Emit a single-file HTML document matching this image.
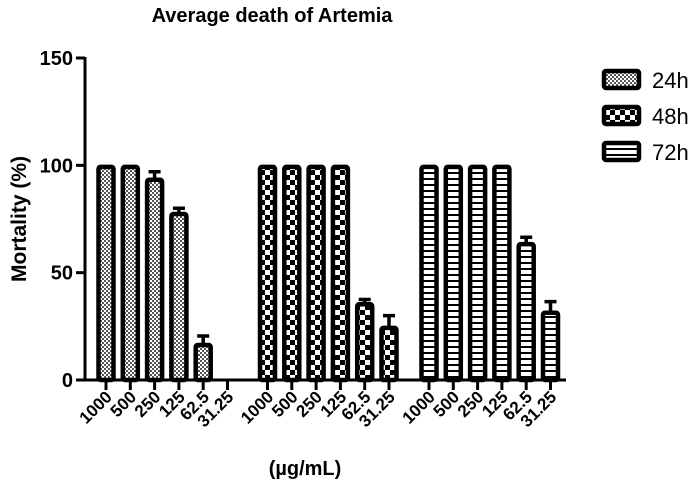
<!DOCTYPE html>
<html><head><meta charset="utf-8"><style>
body{margin:0;background:#fff;}
svg text{font-family:"Liberation Sans",Arial,sans-serif;font-weight:bold;fill:#000;}
</style></head><body>
<svg id="chart" width="700" height="484" viewBox="0 0 700 484">
<defs>
<pattern id="p24" width="4" height="4" patternUnits="userSpaceOnUse"><rect width="4" height="4" fill="#fff"/><rect width="2" height="2" fill="#555"/><rect x="2" y="2" width="2" height="2" fill="#555"/></pattern>
<pattern id="p48" width="10" height="10" patternUnits="userSpaceOnUse"><rect width="10" height="10" fill="#fff"/><rect width="5" height="5" fill="#000"/><rect x="5" y="5" width="5" height="5" fill="#000"/></pattern>
<pattern id="p72" width="6" height="6" patternUnits="userSpaceOnUse"><rect width="6" height="6" fill="#fff"/><rect y="4" width="6" height="2" fill="#000"/></pattern>
</defs>
<text x="272" y="22" font-size="20" text-anchor="middle">Average death of Artemia</text>
<text transform="translate(26,219) rotate(-90)" font-size="21" text-anchor="middle">Mortality (%)</text>
<text x="305" y="475" font-size="20" text-anchor="middle">(µg/mL)</text>
<g id="axes"></g>
<g id="bars"></g>
<g id="legend"></g>
</svg>
<script>
const concentrations=["1000","500","250","125","62.5","31.25"];
const seriesNames=["24h","48h","72h"];
const values24=[100,100,94,78,17,0];
const values48=[100,100,100,100,36,25];
const values72=[100,100,100,100,64,32];
const errors24=[0,0,3,2,3.5,0];
const errors48=[0,0,0,0,1.5,5];
const errors72=[0,0,0,0,2.5,4.5];
const yTicks=[0,50,100,150];
const NS="http://www.w3.org/2000/svg";
const y0=380,yTop=58,yMax=150;
function yScale(v){return y0-(v/yMax)*(y0-yTop);}
function xScale(g,i){return 106+g*161.5+i*24.3;}
function mk(tag,attrs,parent){const e=document.createElementNS(NS,tag);for(const k in attrs)e.setAttribute(k,attrs[k]);parent.appendChild(e);return e;}
const axes=document.getElementById('axes'),bars=document.getElementById('bars'),leg=document.getElementById('legend');
let l=mk('line',{x1:85,y1:yTop-1,x2:85,y2:y0+1.5,stroke:'#000','stroke-width':3},axes);


l=mk('line',{x1:83.5,y1:y0,x2:566,y2:y0,stroke:'#000','stroke-width':3},axes);


yTicks.forEach(t=>{const y=yScale(t);
 const tk=mk('line',{x1:76,y1:y,x2:85,y2:y,stroke:'#000','stroke-width':3},axes);
 
 
 const tx=mk('text',{x:73,y:y+7,'font-size':20,'text-anchor':'end'},axes);tx.textContent=t;
 
 
});
const pats=['url(#p24)','url(#p48)','url(#p72)'];
const vals=[values24,values48,values72],errs=[errors24,errors48,errors72];
for(let g=0;g<3;g++){
 concentrations.forEach((c,i)=>{
  const x=xScale(g,i);
  const tk=mk('line',{x1:x,y1:y0,x2:x,y2:y0+10,stroke:'#000','stroke-width':3},axes);
  
  
  const tx=mk('text',{transform:`translate(${x+7},${y0+18}) rotate(-45)`,'font-size':17,'text-anchor':'end'},axes);tx.textContent=c;
  
  
  const v=vals[g][i];
  if(v>0){
   const yt=yScale(v),e=errs[g][i];
   if(e>0){
    const ye=yScale(v+e);
    const el=mk('path',{d:`M${x},${yt} V${ye} M${x-6},${ye} H${x+6}`,stroke:'#000','stroke-width':3.5,fill:'none'},bars);
    
    
   }
   const r=mk('rect',{x:x-7.5,y:yt+1.5,width:15,height:y0-yt-1.5,fill:pats[g],stroke:'#000','stroke-width':4.5,rx:2},bars);
   
   
  }
 });
}
seriesNames.forEach((s,k)=>{
 const y=71+k*36;
 const r=mk('rect',{x:604,y:y,width:35,height:17,fill:pats[k],stroke:'#000','stroke-width':4.5,rx:2},leg);
 
 
 const t=mk('text',{x:652,y:y+17,'font-size':22},leg);t.textContent=s;
 t.style.fontWeight='normal';
 
 
});
</script>
</body></html>
